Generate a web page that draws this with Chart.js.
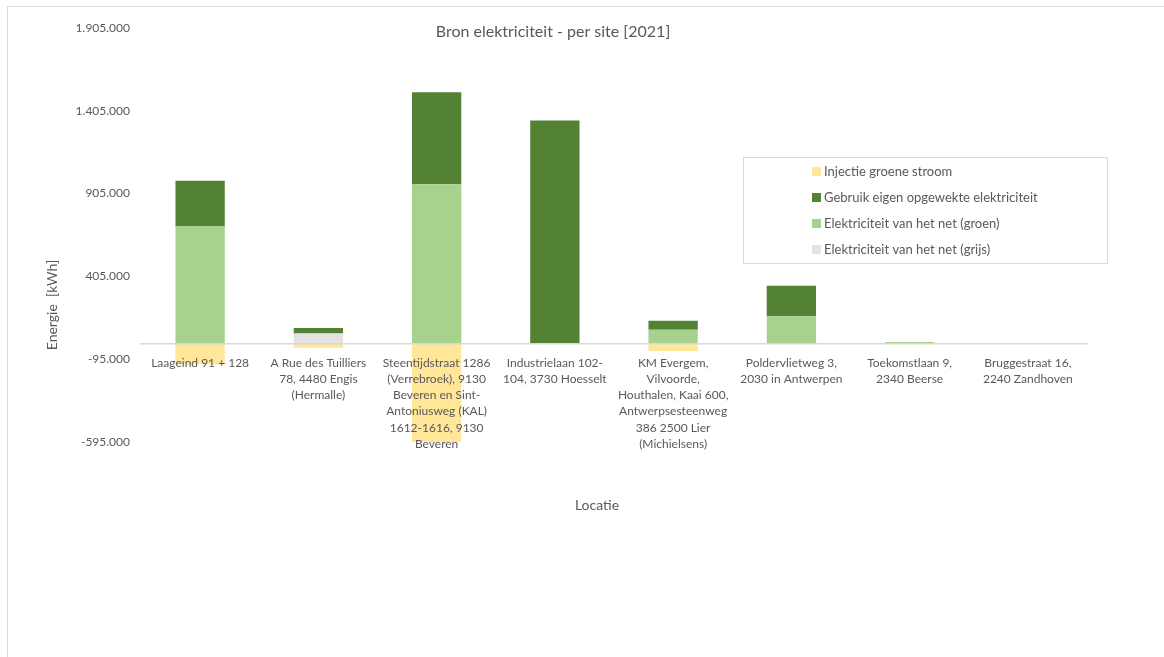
<!DOCTYPE html>
<html>
<head>
<meta charset="utf-8">
<script src="https://cdn.jsdelivr.net/npm/chart.js@4.4.1/dist/chart.umd.min.js"></script>
<style>
  html, body { margin: 0; padding: 0; background: #fff; }
  #wrap { position: relative; width: 1164px; height: 657px; overflow: hidden; }
  #frame { position: absolute; left: 7px; top: 6px; width: 1300px; height: 800px;
           border-left: 1px solid #d9d9d9; border-top: 1px solid #d9d9d9; }
  canvas { position: absolute; left: 0; top: 0; }
</style>
</head>
<body>
<div id="wrap">
  <div id="frame"></div>
  <canvas id="bronChart" width="1164" height="657"></canvas>
</div>
<script type="text/javascript">
// categories (pre-wrapped as in the original)
var sites = [
  ["Laageind 91 + 128"],
  ["A Rue des Tuilliers", "78, 4480 Engis", "(Hermalle)"],
  ["Steentijdstraat 1286", "(Verrebroek), 9130", "Beveren en Sint-", "Antoniusweg (KAL)", "1612-1616, 9130", "Beveren"],
  ["Industrielaan 102-", "104, 3730 Hoesselt"],
  ["KM Evergem,", "Vilvoorde,", "Houthalen, Kaai 600,", "Antwerpsesteenweg", "386 2500 Lier", "(Michielsens)"],
  ["Poldervlietweg 3,", "2030 in Antwerpen"],
  ["Toekomstlaan 9,", "2340 Beerse"],
  ["Bruggestraat 16,", "2240 Zandhoven"]
];

// series values (kWh)
var netGrijs  = [0, 60000, 0, 0, 0, 0, 0, 0];
var netGroen  = [707000, 0, 961000, 0, 83000, 164000, 9000, 0];
var eigen     = [275000, 34000, 556000, 1346000, 54000, 184000, 0, 0];
var injectie  = [-126000, -26000, -605000, 0, -46000, 0, 0, 0];

// y-axis tick labels
var yTicks = [-595000, -95000, 405000, 905000, 1405000, 1905000];

var FONT = "Lato, 'Open Sans', sans-serif";
var GREY_TEXT = "#595959";

function fmt(n) {
  var s = Math.abs(n).toString().replace(/\B(?=(\d{3})+(?!\d))/g, ".");
  return (n < 0 ? "-" : "") + s;
}

var extras = {
  id: "extras",
  afterDraw: function (chart) {
    var ctx = chart.ctx;
    ctx.save();
    ctx.fillStyle = GREY_TEXT;
    ctx.textAlign = "center";
    ctx.textBaseline = "middle";

    // title
    ctx.font = "16px " + FONT;
    ctx.fillText("Bron elektriciteit - per site [2021]", 553, 32);

    // x axis title
    ctx.font = "14px " + FONT;
    ctx.fillText("Locatie", 597, 505);

    // y axis title
    ctx.save();
    ctx.translate(52, 305);
    ctx.rotate(-Math.PI / 2);
    ctx.fillText("Energie  [kWh]", 0, 0);
    ctx.restore();

    // legend box (reverse order, like Excel)
    var bx = 743, by = 157, bw = 364, bh = 106;
    ctx.strokeStyle = "#d9d9d9";
    ctx.lineWidth = 1;
    ctx.strokeRect(bx + 0.5, by + 0.5, bw, bh);
    ctx.font = "13px " + FONT;
    ctx.textAlign = "left";
    var ds = chart.data.datasets.slice().reverse();
    ds.forEach(function (d, i) {
      var cy = 171 + i * 26;
      ctx.fillStyle = d.backgroundColor;
      ctx.fillRect(812, cy - 4, 9, 9);
      ctx.fillStyle = GREY_TEXT;
      ctx.fillText(d.label, 824, cy + 0.5);
    });
    ctx.restore();
  }
};

var chart = new Chart("bronChart", {
  type: "bar",
  data: {
    labels: sites,
    datasets: [
      { label: "Elektriciteit van het net (grijs)", data: netGrijs, backgroundColor: "#E3E3E3" },
      { label: "Elektriciteit van het net (groen)", data: netGroen, backgroundColor: "#A9D18E" },
      { label: "Gebruik eigen opgewekte elektriciteit", data: eigen, backgroundColor: "#548235" },
      { label: "Injectie groene stroom", data: injectie, backgroundColor: "#FFE699" }
    ]
  },
  options: {
    responsive: false,
    animation: false,
    categoryPercentage: 1,
    barPercentage: 0.417,
    layout: { padding: { left: 0, top: 28, right: 77, bottom: 215 } },
    plugins: {
      legend: { display: false },
      title: { display: false },
      tooltip: { enabled: false }
    },
    scales: {
      x: {
        stacked: true,
        position: { y: 0 },
        grid: { display: false, drawTicks: false },
        border: { display: true, color: "#d9d9d9", width: 1.5, z: 1 },
        ticks: {
          z: 1,
          autoSkip: false,
          maxRotation: 0,
          padding: 11,
          color: GREY_TEXT,
          font: { family: FONT, size: 12, lineHeight: 1.36 }
        }
      },
      y: {
        stacked: true,
        min: yTicks[0],
        max: yTicks[yTicks.length - 1],
        grid: { display: false, drawTicks: false },
        border: { display: false },
        afterFit: function (scale) { scale.width = 141; },
        afterBuildTicks: function (scale) {
          scale.ticks = yTicks.map(function (v) { return { value: v }; });
        },
        ticks: {
          padding: 11,
          color: GREY_TEXT,
          font: { family: FONT, size: 12 },
          callback: function (v) { return fmt(v); }
        }
      }
    }
  },
  plugins: [extras]
});
</script>
</body>
</html>
